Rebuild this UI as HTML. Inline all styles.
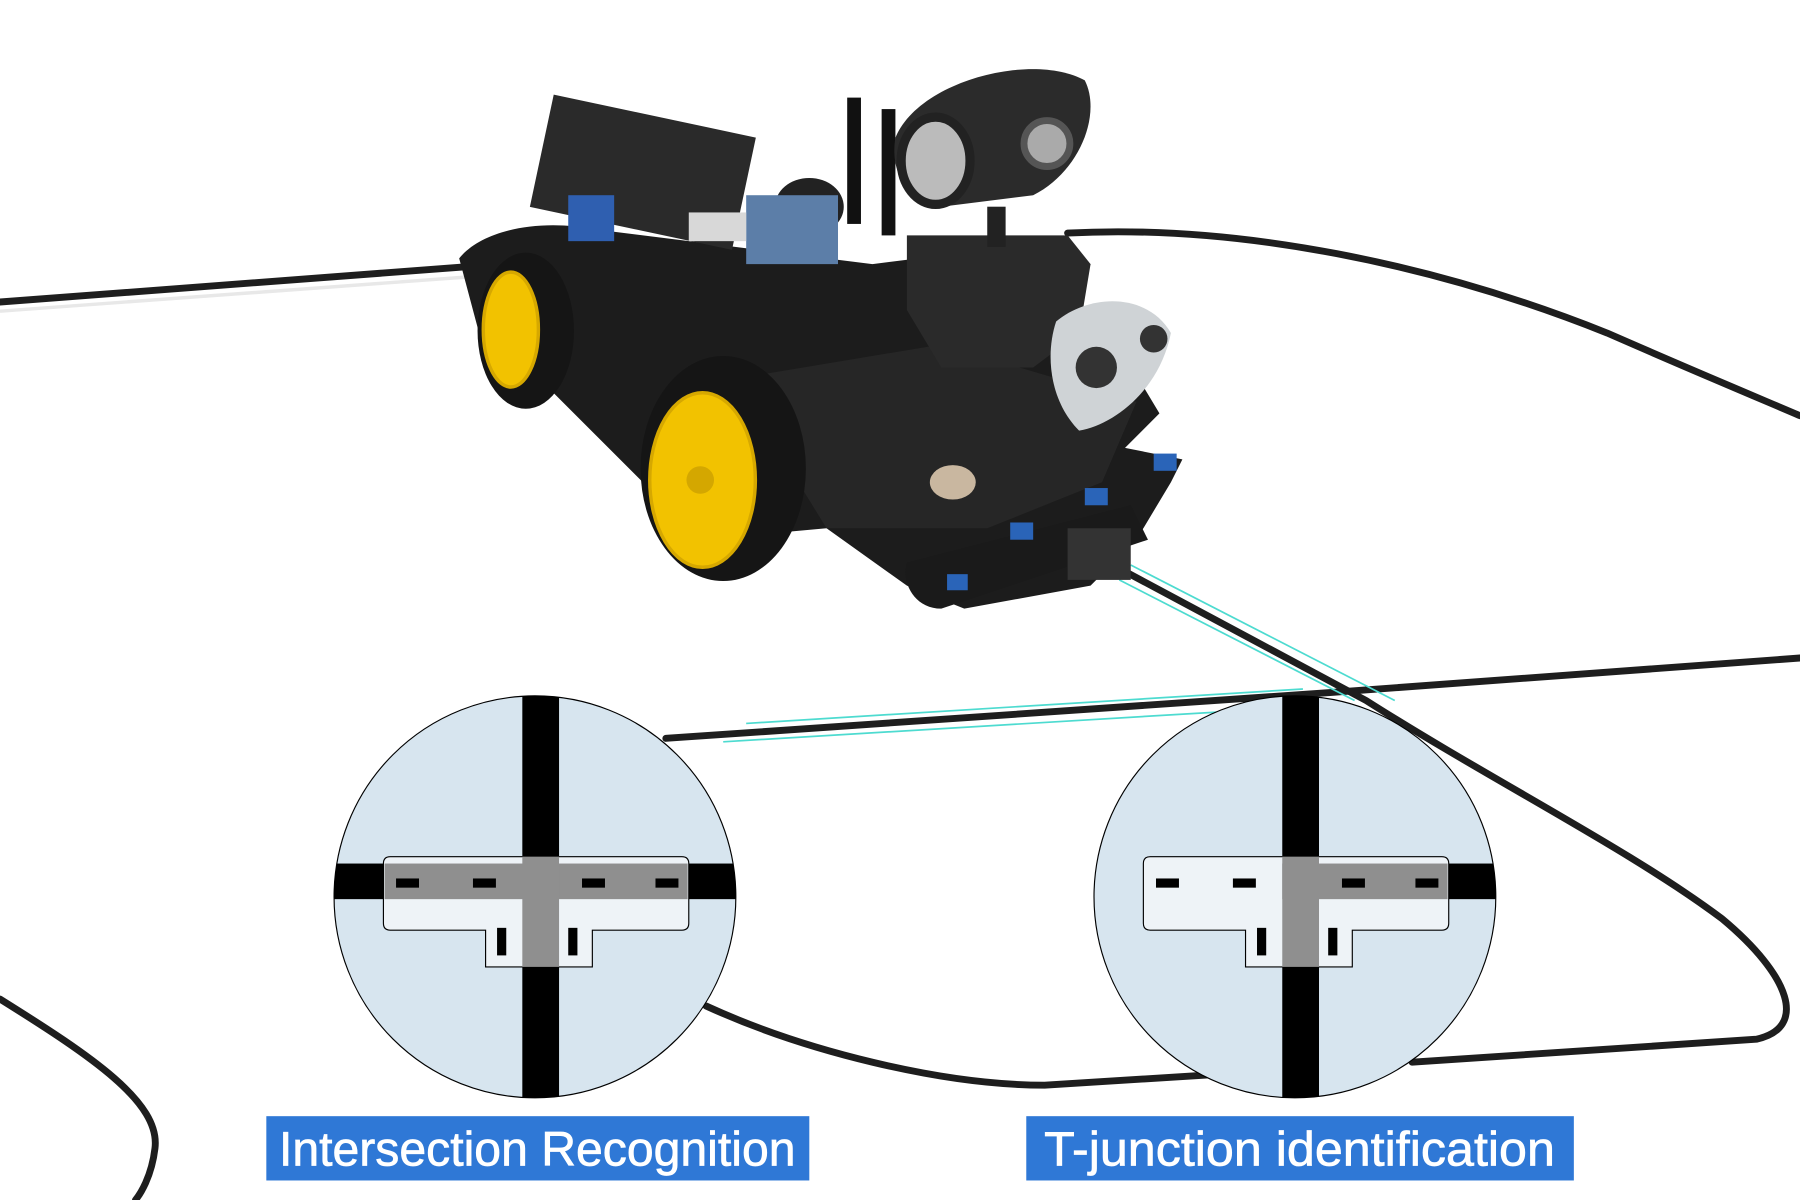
<!DOCTYPE html>
<html><head><meta charset="utf-8"><style>
html,body{margin:0;padding:0;background:#fff;width:1800px;height:1200px;overflow:hidden}
svg{display:block}
</style></head><body>
<svg width="1800" height="1200" viewBox="0 0 1568 1045" preserveAspectRatio="none" xmlns="http://www.w3.org/2000/svg">
<g fill="none" stroke="#1e1e1e" stroke-width="6" stroke-linecap="round" stroke-linejoin="round">
<path d="M0,263 L410,232"/>
<path d="M930,203 C1080,195 1250,230 1400,290 C1480,325 1540,350 1568,362"/>
<path d="M580,643 L1160,603 L1568,573"/>
<path d="M975,495 L1190,610 C1300,680 1420,740 1500,800 C1560,850 1575,895 1530,905 L1230,925"/>
<path d="M615,876 C700,915 820,945 910,945 L1070,935"/>
<path d="M0,870 C80,920 140,960 135,1000 C132,1025 122,1040 118,1045"/>
</g>
<path d="M0,271 L410,241" stroke="#e8e8e8" stroke-width="3"/>
<g stroke="#4ddbd0" stroke-width="1.5" fill="none">
<path d="M650,630 L1135,600"/><path d="M630,646 L1062,620"/>
<path d="M985,492 L1215,610"/><path d="M975,505 L1180,610"/>
</g>
<!-- car -->
<g>
<path d="M400,225 C420,200 470,190 520,200 L760,230 L840,220 L980,310 L1010,360 L980,390 L1030,400 L1020,420 L990,470 L950,510 L840,530 L790,510 L720,460 L610,470 L560,420 L470,330 L420,300 Z" fill="#1c1c1c"/>
<path d="M640,330 L820,300 L990,350 L960,420 L860,460 L720,460 Z" fill="#262626"/>
<ellipse cx="458" cy="288" rx="42" ry="68" fill="#151515"/>
<ellipse cx="445" cy="287" rx="24" ry="50" fill="#f2c200" stroke="#d6a800" stroke-width="3"/>
<ellipse cx="630" cy="408" rx="72" ry="98" fill="#151515"/>
<ellipse cx="612" cy="418" rx="46" ry="76" fill="#f2c200" stroke="#d6a800" stroke-width="3"/>
<circle cx="610" cy="418" r="12" fill="#d4a700"/>
<ellipse cx="705" cy="180" rx="30" ry="25" fill="#222"/>
<ellipse cx="695" cy="185" rx="14" ry="12" fill="#f2c200"/>
<rect x="470" y="100" width="180" height="100" fill="#2a2a2a" transform="rotate(12 560 150)"/>
<rect x="495" y="170" width="40" height="40" fill="#2f5fb0"/>
<rect x="650" y="170" width="80" height="60" fill="#5c7ea8"/>
<rect x="600" y="185" width="50" height="25" fill="#d8d8d8"/>
<rect x="738" y="85" width="12" height="110" fill="#111"/>
<rect x="768" y="95" width="12" height="110" fill="#111"/>
<path d="M790,205 L930,205 L950,230 L940,290 L900,320 L820,320 L790,270 Z" fill="#2a2a2a"/>
<rect x="860" y="180" width="16" height="35" fill="#222"/>
<path d="M780,120 C800,70 900,45 945,70 C960,100 940,150 900,170 L820,180 C790,175 775,150 780,120 Z" fill="#2b2b2b"/>
<ellipse cx="815" cy="140" rx="30" ry="38" fill="#bbb" stroke="#222" stroke-width="8"/>
<circle cx="912" cy="125" r="20" fill="#aaa" stroke="#555" stroke-width="6"/>
<path d="M920,280 C950,255 1000,255 1020,290 C1010,340 970,370 940,375 C915,350 910,310 920,280 Z" fill="#cfd3d6"/>
<circle cx="955" cy="320" r="18" fill="#333"/><circle cx="1005" cy="295" r="12" fill="#333"/>
<path d="M790,490 L985,440 L1000,470 L820,530 C795,530 785,505 790,490 Z" fill="#1a1a1a"/>
<rect x="880" y="455" width="20" height="15" fill="#2a64b8"/><rect x="945" y="425" width="20" height="15" fill="#2a64b8"/>
<rect x="1005" y="395" width="20" height="15" fill="#2a64b8"/><rect x="825" y="500" width="18" height="14" fill="#2a64b8"/>
<rect x="930" y="460" width="55" height="45" fill="#333"/>
<ellipse cx="830" cy="420" rx="20" ry="15" fill="#c9b7a0"/>
</g>
<!-- circles -->
<defs>
<clipPath id="c1"><circle cx="466" cy="781" r="175"/></clipPath>
<clipPath id="c2"><circle cx="1128" cy="781" r="175"/></clipPath>
</defs>
<g clip-path="url(#c1)">
<rect x="280" y="600" width="380" height="360" fill="#d7e5ef"/>
<rect x="455" y="600" width="32" height="360" fill="#000"/>
<rect x="280" y="752" width="380" height="31" fill="#000"/>
<path d="M340,746 L594,746 Q600,746 600,752 L600,804 Q600,810 594,810 L516,810 L516,842 L423,842 L423,810 L340,810 Q334,810 334,804 L334,752 Q334,746 340,746 Z" fill="#eef3f7" stroke="#000" stroke-width="1"/>
<rect x="335" y="752" width="264" height="31" fill="#8f8f8f"/>
<rect x="455" y="746" width="32" height="96" fill="#8f8f8f"/>
<rect x="345" y="765" width="20" height="8" fill="#000"/><rect x="412" y="765" width="20" height="8" fill="#000"/>
<rect x="507" y="765" width="20" height="8" fill="#000"/><rect x="571" y="765" width="20" height="8" fill="#000"/>
<rect x="433" y="808" width="8" height="24" fill="#000"/><rect x="495" y="808" width="8" height="24" fill="#000"/>
</g>
<circle cx="466" cy="781" r="175" fill="none" stroke="#000" stroke-width="1"/>
<g clip-path="url(#c2)">
<rect x="940" y="600" width="380" height="360" fill="#d7e5ef"/>
<rect x="1117" y="600" width="32" height="360" fill="#000"/>
<rect x="1117" y="752" width="200" height="31" fill="#000"/>
<path d="M1002,746 L1256,746 Q1262,746 1262,752 L1262,804 Q1262,810 1256,810 L1178,810 L1178,842 L1085,842 L1085,810 L1002,810 Q996,810 996,804 L996,752 Q996,746 1002,746 Z" fill="#eef3f7" stroke="#000" stroke-width="1"/>
<rect x="1117" y="752" width="144" height="31" fill="#8f8f8f"/>
<rect x="1117" y="746" width="32" height="96" fill="#8f8f8f"/>
<rect x="1007" y="765" width="20" height="8" fill="#000"/><rect x="1074" y="765" width="20" height="8" fill="#000"/>
<rect x="1169" y="765" width="20" height="8" fill="#000"/><rect x="1233" y="765" width="20" height="8" fill="#000"/>
<rect x="1095" y="808" width="8" height="24" fill="#000"/><rect x="1157" y="808" width="8" height="24" fill="#000"/>
</g>
<circle cx="1128" cy="781" r="175" fill="none" stroke="#000" stroke-width="1"/>
<rect x="232" y="972" width="473" height="56" fill="#2f78d6"/>
<rect x="894" y="972" width="477" height="56" fill="#2f78d6"/>
<g fill="#fff" stroke="#fff" stroke-width="0.6" font-family="'Liberation Sans Narrow','Liberation Sans',sans-serif" font-size="42" text-anchor="middle">
<text x="468" y="1015" textLength="450" lengthAdjust="spacingAndGlyphs">Intersection Recognition</text>
<text x="1132" y="1015" textLength="445" lengthAdjust="spacingAndGlyphs">T-junction identification</text>
</g>
</svg>
</body></html>
